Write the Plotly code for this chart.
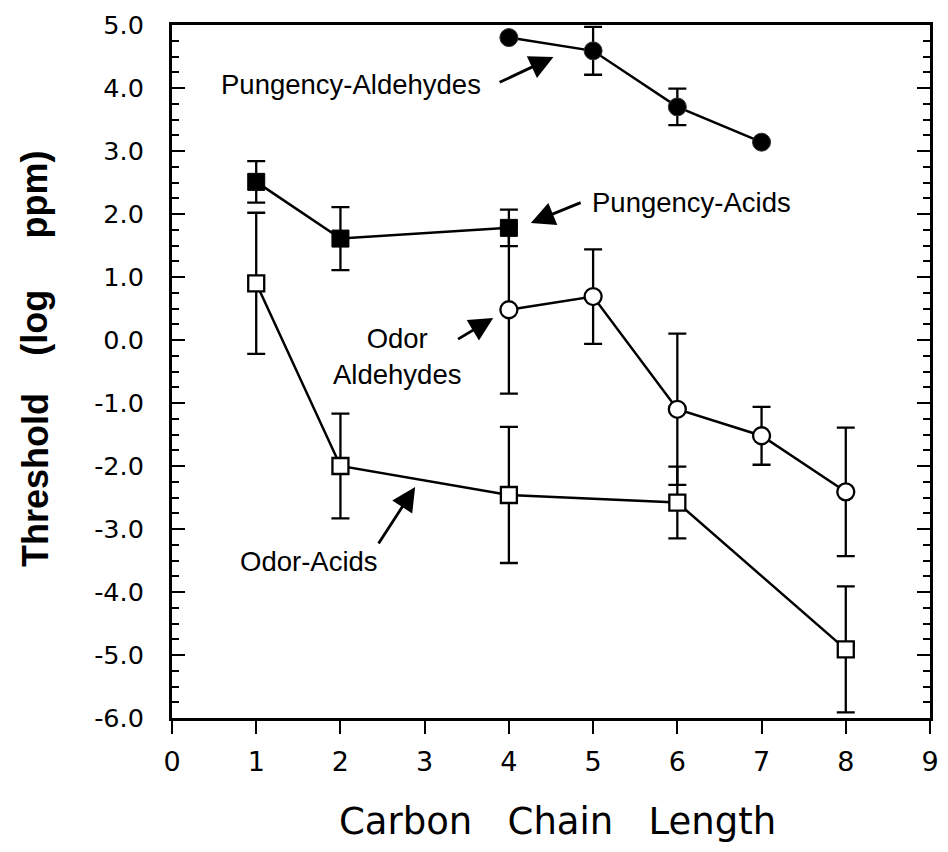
import plotly.graph_objects as go

# ---- data ----
pa_x = [4, 5, 6, 7]                      # Pungency-Aldehydes
pa_y = [4.80, 4.59, 3.70, 3.14]
pa_err = [0.0, 0.38, 0.29, 0.0]

pac_x = [1, 2, 4]                        # Pungency-Acids
pac_y = [2.51, 1.61, 1.78]
pac_err = [0.33, 0.50, 0.29]

oal_x = [4, 5, 6, 7, 8]                  # Odor Aldehydes
oal_y = [0.48, 0.69, -1.10, -1.52, -2.41]
oal_err = [1.33, 0.75, 1.20, 0.46, 1.02]

oac_x = [1, 2, 4, 6, 8]                  # Odor-Acids
oac_y = [0.90, -2.00, -2.46, -2.58, -4.91]
oac_err = [1.12, 0.83, 1.08, 0.57, 1.00]

y_tickvals = [-6, -5, -4, -3, -2, -1, 0, 1, 2, 3, 4, 5]
y_ticktext = ["-6.0", "-5.0", "-4.0", "-3.0", "-2.0", "-1.0", "0.0",
              "1.0", "2.0", "3.0", "4.0", "5.0"]
x_tickvals = [0, 1, 2, 3, 4, 5, 6, 7, 8, 9]

# ---- figure ----
fig = go.Figure()

def err(vals):
    return dict(type="data", array=vals, visible=True, color="black",
                thickness=2.3, width=9)

fig.add_trace(go.Scatter(
    x=oac_x, y=oac_y, mode="lines+markers", error_y=err(oac_err),
    line=dict(color="black", width=2.5),
    marker=dict(symbol="square", size=16, color="white",
                line=dict(color="black", width=2.3)),
    showlegend=False))

fig.add_trace(go.Scatter(
    x=oal_x, y=oal_y, mode="lines+markers", error_y=err(oal_err),
    line=dict(color="black", width=2.5),
    marker=dict(symbol="circle", size=17, color="white",
                line=dict(color="black", width=2.3)),
    showlegend=False))

fig.add_trace(go.Scatter(
    x=pac_x, y=pac_y, mode="lines+markers", error_y=err(pac_err),
    line=dict(color="black", width=2.5),
    marker=dict(symbol="square", size=17, color="black",
                line=dict(color="black", width=1)),
    showlegend=False))

fig.add_trace(go.Scatter(
    x=pa_x, y=pa_y, mode="lines+markers", error_y=err(pa_err),
    line=dict(color="black", width=2.5),
    marker=dict(symbol="circle", size=18, color="black",
                line=dict(color="#333", width=1)),
    showlegend=False))

lab_font = dict(family="Liberation Sans, Arial, sans-serif", size=27.5, color="black")

annotations = []
# text labels
annotations.append(dict(x=3.696, y=4.063, xref="x", yref="y", text="Pungency-Aldehydes",
                        showarrow=False, xanchor="right", yanchor="middle", font=lab_font))
annotations.append(dict(x=4.964, y=2.19, xref="x", yref="y", text="Pungency-Acids",
                        showarrow=False, xanchor="left", yanchor="middle", font=lab_font))
annotations.append(dict(x=2.675, y=-0.254, xref="x", yref="y", text="Odor<br>Aldehydes",
                        showarrow=False, xanchor="center", yanchor="middle", font=lab_font))
annotations.append(dict(x=1.625, y=-3.508, xref="x", yref="y", text="Odor-Acids",
                        showarrow=False, xanchor="center", yanchor="middle", font=lab_font))

# arrows (tip x,y ; tail ax,ay)
arrows = [
    (4.529, 4.492, 3.872, 4.079),
    (4.260, 1.857, 4.870, 2.190),
    (3.814, 0.349, 3.379, 0.0),
    (2.887, -2.333, 2.441, -3.254),
]
for (tx, ty, sx, sy) in arrows:
    annotations.append(dict(x=tx, y=ty, ax=sx, ay=sy, xref="x", yref="y",
                            axref="x", ayref="y", text="", showarrow=True,
                            arrowhead=2, arrowsize=1.7, arrowwidth=2.8,
                            arrowcolor="black", standoff=0, startstandoff=0))

# y-axis title, word by word (paper coords)
for word, ypaper in [("Threshold", 0.343), ("(log", 0.570), ("ppm)", 0.755)]:
    annotations.append(dict(x=-0.181, y=ypaper, xref="paper", yref="paper",
                            text=word, textangle=-90, showarrow=False,
                            xanchor="center", yanchor="middle",
                            font=dict(family="Liberation Sans, Arial, sans-serif",
                                      size=36, color="black", weight="bold")))

annotations.append(dict(x=0.508, y=-0.150, xref="paper", yref="paper",
                        text="Carbon   Chain   Length",
                        showarrow=False, xanchor="center", yanchor="middle",
                        font=dict(family="DejaVu Sans, sans-serif",
                                  size=37, color="black")))

fig.update_layout(
    width=948, height=852,
    margin=dict(l=172, r=9, t=25, b=134),
    paper_bgcolor="white", plot_bgcolor="white",
    annotations=annotations,
    showlegend=False,
)

fig.update_xaxes(
    range=[0, 9], tickmode="array", tickvals=x_tickvals,
    ticks="outside", ticklen=13, tickwidth=2, tickcolor="black",
    showline=True, linewidth=3, linecolor="black", mirror=True,
    showgrid=False, zeroline=False,
    tickfont=dict(family="DejaVu Sans, sans-serif", size=27, color="black"),
    ticklabelstandoff=5,
)
fig.update_yaxes(
    range=[-6, 5], tickmode="array", tickvals=y_tickvals, ticktext=y_ticktext,
    ticks="inside", ticklen=13, tickwidth=2, tickcolor="black",
    minor=dict(dtick=0.25, tick0=0, ticks="inside", ticklen=7, tickwidth=2,
               tickcolor="black", showgrid=False),
    showline=True, linewidth=3, linecolor="black", mirror="ticks",
    showgrid=False, zeroline=False,
    tickfont=dict(family="DejaVu Sans, sans-serif", size=25.5, color="black"),
    ticklabelstandoff=20,
)

fig.write_html("out.html")
